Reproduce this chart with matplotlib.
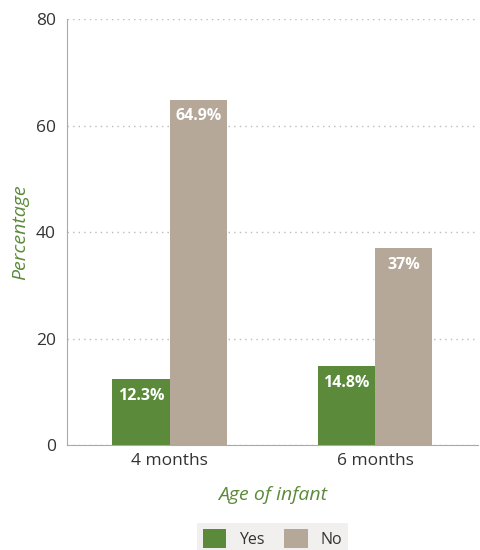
import numpy as np
import matplotlib
matplotlib.use("Agg")
import matplotlib.pyplot as plt

plt.rcParams['font.family'] = ['Open Sans', 'DejaVu Sans']

# data
categories = ['4 months', '6 months']
yes_vals = [12.3, 14.8]
no_vals = [64.9, 37]
yes_labels = ['12.3%', '14.8%']
no_labels = ['64.9%', '37%']

green = '#5b8a3a'
tan = '#b5a899'
axis_grey = '#aaaaaa'

fig = plt.figure(figsize=(4.8, 5.5), dpi=100)
ax = fig.add_axes([0.14, 0.191, 0.855, 0.774])

x = np.arange(len(categories))
w = 0.28
b1 = ax.bar(x - w / 2, yes_vals, w, color=green, label='Yes')
b2 = ax.bar(x + w / 2, no_vals, w, color=tan, label='No')

# value labels inside the top of each bar
for bars, labs in ((b1, yes_labels), (b2, no_labels)):
    for r, t in zip(bars, labs):
        ax.annotate(t, (r.get_x() + r.get_width() / 2, r.get_height()),
                    xytext=(0, -12), textcoords='offset points',
                    ha='center', va='center', color='white',
                    fontsize=11.5, fontweight='bold')

ax.set_xlim(-0.5, 1.5)
ax.set_ylim(0, 80)
ax.set_yticks([0, 20, 40, 60, 80])
ax.set_xticks(x)
ax.set_xticklabels(categories)
ax.tick_params(axis='both', length=0, labelsize=12.5, colors='#333333', pad=8)
ax.tick_params(axis='x', pad=6)

ax.yaxis.grid(True, linestyle=(0, (1, 3)), color='#bbbbbb', linewidth=1)
ax.set_axisbelow(True)
for s in ['top', 'right']:
    ax.spines[s].set_visible(False)
ax.spines['left'].set_color(axis_grey)
ax.spines['bottom'].set_color(axis_grey)

ax.set_ylabel('Percentage', color=green, fontstyle='italic', fontsize=14, labelpad=5)
ax.set_xlabel('Age of infant', color=green, fontstyle='italic', fontsize=14, labelpad=12)

leg = ax.legend(loc='upper center', bbox_to_anchor=(0.5, -0.165), ncol=2,
                frameon=True, fontsize=11.5, handlelength=1.5, handleheight=1.5,
                handletextpad=0.8, columnspacing=1.2, borderpad=0.35, fancybox=False)
leg.get_frame().set_facecolor('#efedea')
leg.get_frame().set_edgecolor('none')
for t in leg.get_texts():
    t.set_color('#333333')

fig.savefig('out.png', dpi=100)
